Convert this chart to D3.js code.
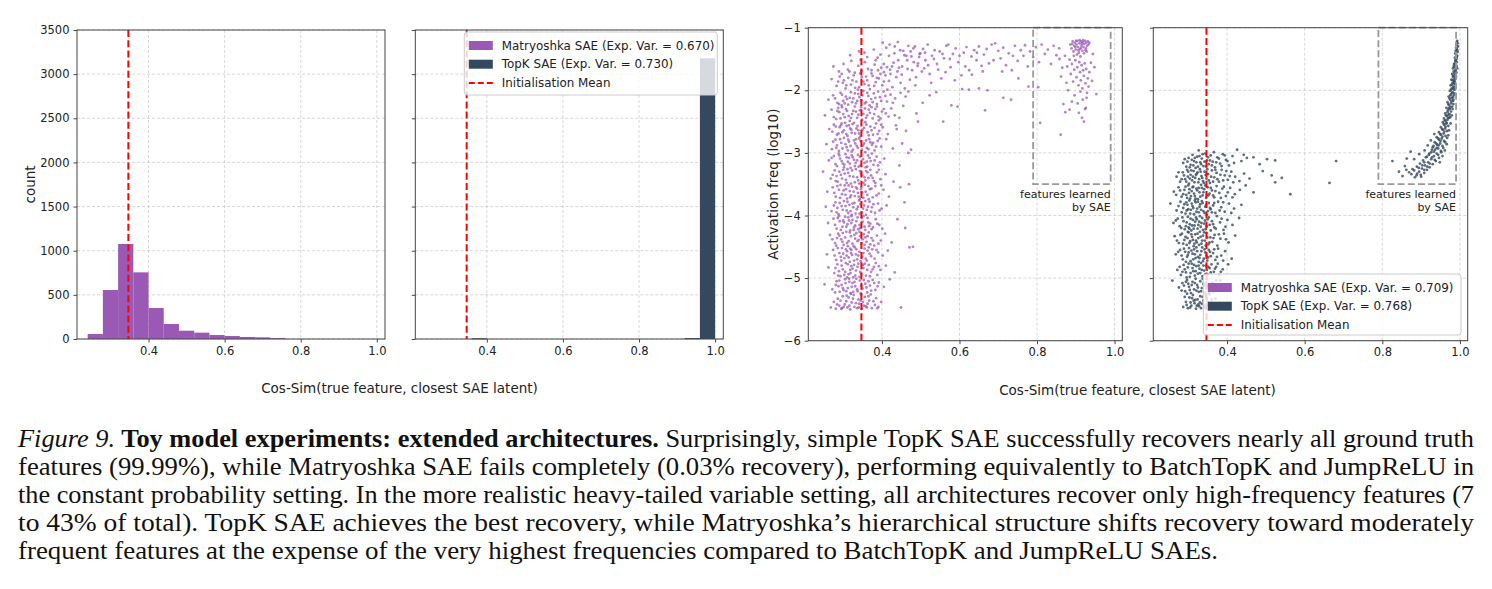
<!DOCTYPE html>
<html>
<head>
<meta charset="utf-8">
<script src="https://cdn.jsdelivr.net/npm/d3@7"></script>
<style>
  body { margin: 0; background: #fff; }
  svg { display: block; font-family: "DejaVu Sans", sans-serif; }
</style>
</head>
<body>
<div id="container"></div>
<script>
/* CONSTANTS AND GLOBALS */
const width = 1492,
  height = 589;

const colors = { matryoshka: "#9b59b6", topk: "#34495e", init: "#ff0000", text: "#222" };

// panel frames (pixels) - two figures side by side, each with two axes
const frames = {
  histM: { left: 77, right: 385, top: 30, bottom: 339 },
  histT: { left: 415.3, right: 723.3, top: 30, bottom: 339 },
  scatM: { left: 808.3, right: 1122.3, top: 27.7, bottom: 340.7 },
  scatT: { left: 1153.3, right: 1467.7, top: 27.7, bottom: 340.7 }
};

/* DATA */
// histogram bins (cos-sim), width 0.04
const binEdges = [0.24, 0.28, 0.32, 0.36, 0.40, 0.44, 0.48, 0.52, 0.56, 0.60, 0.64, 0.68, 0.72, 0.76, 0.80, 0.84, 0.88, 0.92, 0.96, 1.00];
const matryoshkaCounts = [57, 555, 1076, 755, 351, 170, 94, 72, 45, 34, 23, 19, 11, 0, 0, 0, 0, 0, 0];
const topkCounts = [0, 0, 0, 8, 0, 0, 0, 0, 0, 0, 0, 0, 0, 0, 0, 0, 0, 10, 3180];

const initMean = 0.347;
const cosDomainHist = [0.212, 1.0215];
const cosDomainScatter = [0.210, 1.020];
const cosTicks = [0.4, 0.6, 0.8, 1.0];
const countTicks = [0, 500, 1000, 1500, 2000, 2500, 3000, 3500];
const freqTicks = [-6, -5, -4, -3, -2, -1];

const legendHist = ["Matryoshka SAE (Exp. Var. = 0.670)", "TopK SAE (Exp. Var. = 0.730)", "Initialisation Mean"];
const legendScatter = ["Matryoshka SAE (Exp. Var. = 0.709)", "TopK SAE (Exp. Var. = 0.768)", "Initialisation Mean"];

// region of features learned by the SAE (cos-sim, log10 freq)
const learnedRegion = { x0: 0.79, x1: 0.99, y0: -3.5, y1: -1.0 };

// [cos-sim, log10 activation freq]
const matryoshkaPoints = [
  // core, bottom to top
  [0.268,-5.47],[0.281,-5.49],[0.290,-5.44],[0.297,-5.48],[0.304,-5.42],[0.311,-5.47],[0.318,-5.50],[0.322,-5.39],[0.329,-5.46],[0.336,-5.48],[0.341,-5.41],[0.348,-5.49],[0.353,-5.44],[0.361,-5.47],[0.367,-5.36],[0.374,-5.48],[0.382,-5.43],[0.391,-5.46],[0.286,-5.33],[0.299,-5.29],[0.314,-5.31],[0.327,-5.27],[0.339,-5.34],[0.356,-5.30],[0.371,-5.26],[0.385,-5.32],[0.276,-5.38],[0.308,-5.37],[0.345,-5.36],[0.363,-5.41],[0.398,-5.38],[0.449,-5.47],
  [0.284,-5.42],[0.293,-5.36],[0.301,-5.46],[0.309,-5.28],[0.316,-5.44],[0.325,-5.33],[0.333,-5.40],[0.340,-5.47],[0.351,-5.38],[0.358,-5.45],[0.365,-5.29],[0.378,-5.37],[0.388,-5.48],[0.320,-5.25],[0.295,-5.49],[0.346,-5.26],
  [0.252,-5.10],[0.272,-5.18],[0.283,-5.05],[0.291,-5.22],[0.296,-5.11],[0.305,-5.02],[0.312,-5.16],[0.319,-5.24],[0.324,-5.08],[0.331,-5.13],[0.337,-5.21],[0.343,-5.04],[0.350,-5.17],[0.357,-5.09],[0.362,-5.23],[0.369,-5.12],[0.376,-5.03],[0.383,-5.19],[0.392,-5.07],[0.405,-5.14],[0.288,-5.13],[0.316,-5.06],[0.334,-5.01],[0.347,-5.12],[0.301,-5.19],[0.365,-5.05],[0.279,-5.23],[0.420,-5.02],
  [0.281,-5.11],[0.290,-5.04],[0.299,-5.16],[0.308,-5.21],[0.315,-5.01],[0.322,-5.14],[0.329,-5.06],[0.336,-5.18],[0.345,-5.24],[0.353,-5.03],[0.360,-5.15],[0.372,-5.20],[0.380,-5.08],[0.389,-5.13],[0.326,-5.22],[0.306,-5.08],
  [0.262,-4.83],[0.277,-4.92],[0.285,-4.78],[0.293,-4.97],[0.299,-4.86],[0.307,-4.76],[0.314,-4.94],[0.321,-4.81],[0.326,-4.99],[0.333,-4.88],[0.339,-4.77],[0.346,-4.93],[0.352,-4.84],[0.359,-4.96],[0.366,-4.79],[0.372,-4.90],[0.379,-4.82],[0.388,-4.95],[0.396,-4.87],[0.410,-4.80],[0.289,-4.89],[0.318,-4.87],[0.342,-4.98],[0.356,-4.77],[0.303,-4.95],[0.328,-4.79],[0.384,-4.76],[0.433,-4.91],
  [0.280,-4.84],[0.287,-4.96],[0.296,-4.80],[0.305,-4.90],[0.312,-4.78],[0.319,-4.92],[0.324,-4.85],[0.331,-4.96],[0.337,-4.82],[0.344,-4.90],[0.351,-4.79],[0.362,-4.87],[0.369,-4.97],[0.376,-4.86],[0.392,-4.81],[0.310,-4.99],
  [0.258,-4.62],[0.274,-4.55],[0.282,-4.71],[0.290,-4.60],[0.297,-4.52],[0.303,-4.68],[0.310,-4.57],[0.317,-4.74],[0.323,-4.63],[0.330,-4.51],[0.336,-4.70],[0.342,-4.58],[0.349,-4.66],[0.355,-4.53],[0.361,-4.72],[0.368,-4.61],[0.375,-4.54],[0.381,-4.69],[0.390,-4.59],[0.402,-4.64],[0.294,-4.66],[0.321,-4.55],[0.345,-4.73],[0.363,-4.56],[0.309,-4.64],[0.333,-4.62],[0.415,-4.56],[0.471,-4.51],
  [0.278,-4.64],[0.286,-4.52],[0.295,-4.72],[0.300,-4.61],[0.307,-4.54],[0.314,-4.67],[0.320,-4.60],[0.328,-4.72],[0.334,-4.54],[0.339,-4.64],[0.352,-4.60],[0.358,-4.69],[0.366,-4.51],[0.372,-4.65],[0.386,-4.55],[0.318,-4.53],
  [0.266,-4.31],[0.279,-4.44],[0.287,-4.29],[0.295,-4.38],[0.301,-4.47],[0.308,-4.26],[0.314,-4.41],[0.320,-4.33],[0.327,-4.49],[0.334,-4.28],[0.340,-4.39],[0.347,-4.45],[0.353,-4.30],[0.360,-4.42],[0.366,-4.27],[0.373,-4.36],[0.380,-4.48],[0.387,-4.32],[0.397,-4.40],[0.284,-4.36],[0.312,-4.49],[0.331,-4.37],[0.357,-4.35],[0.370,-4.46],[0.299,-4.28],[0.344,-4.33],[0.408,-4.29],[0.425,-4.43],
  [0.272,-4.38],[0.282,-4.48],[0.290,-4.32],[0.298,-4.42],[0.305,-4.35],[0.317,-4.27],[0.324,-4.45],[0.329,-4.31],[0.337,-4.41],[0.350,-4.38],[0.355,-4.47],[0.363,-4.33],[0.377,-4.40],[0.391,-4.45],[0.310,-4.44],[0.342,-4.26],
  [0.261,-4.12],[0.275,-4.05],[0.283,-4.21],[0.291,-4.09],[0.298,-4.18],[0.305,-4.02],[0.311,-4.14],[0.318,-4.24],[0.324,-4.07],[0.331,-4.16],[0.337,-4.03],[0.344,-4.20],[0.350,-4.10],[0.357,-4.23],[0.363,-4.04],[0.370,-4.13],[0.377,-4.19],[0.384,-4.06],[0.393,-4.15],[0.289,-4.01],[0.315,-4.08],[0.339,-4.22],[0.352,-4.01],[0.367,-4.17],[0.302,-4.11],[0.328,-4.19],[0.401,-4.21],[0.440,-4.06],
  [0.279,-4.15],[0.286,-4.04],[0.294,-4.23],[0.300,-4.08],[0.308,-4.18],[0.313,-4.03],[0.321,-4.12],[0.327,-4.23],[0.334,-4.09],[0.342,-4.15],[0.348,-4.04],[0.355,-4.18],[0.365,-4.11],[0.373,-4.22],[0.388,-4.13],[0.321,-4.01],
  [0.255,-3.86],[0.270,-3.93],[0.280,-3.79],[0.288,-3.98],[0.296,-3.85],[0.302,-3.77],[0.309,-3.92],[0.316,-3.83],[0.322,-3.99],[0.329,-3.80],[0.335,-3.90],[0.341,-3.76],[0.348,-3.95],[0.354,-3.84],[0.361,-3.91],[0.368,-3.78],[0.374,-3.87],[0.382,-3.96],[0.390,-3.81],[0.399,-3.89],[0.285,-3.88],[0.313,-3.96],[0.326,-3.87],[0.345,-3.82],[0.359,-3.99],[0.372,-3.94],[0.412,-3.84],[0.458,-3.79],
  [0.276,-3.84],[0.283,-3.95],[0.291,-3.80],[0.299,-3.91],[0.306,-3.85],[0.311,-3.78],[0.319,-3.93],[0.324,-3.81],[0.332,-3.97],[0.338,-3.86],[0.351,-3.89],[0.357,-3.77],[0.364,-3.86],[0.378,-3.82],[0.394,-3.92],[0.342,-3.97],
  [0.259,-3.62],[0.273,-3.55],[0.281,-3.70],[0.289,-3.59],[0.297,-3.66],[0.304,-3.52],[0.310,-3.73],[0.317,-3.61],[0.323,-3.54],[0.330,-3.69],[0.336,-3.57],[0.343,-3.74],[0.349,-3.63],[0.356,-3.51],[0.362,-3.67],[0.369,-3.58],[0.376,-3.71],[0.383,-3.53],[0.392,-3.65],[0.404,-3.59],[0.293,-3.51],[0.320,-3.68],[0.338,-3.64],[0.352,-3.72],[0.365,-3.53],[0.307,-3.58],[0.418,-3.70],[0.447,-3.55],
  [0.277,-3.64],[0.285,-3.53],[0.292,-3.72],[0.301,-3.60],[0.306,-3.67],[0.314,-3.52],[0.318,-3.71],[0.327,-3.62],[0.333,-3.55],[0.340,-3.70],[0.346,-3.58],[0.358,-3.62],[0.366,-3.74],[0.373,-3.57],[0.386,-3.68],[0.398,-3.52],
  [0.248,-3.30],[0.268,-3.41],[0.278,-3.28],[0.286,-3.46],[0.294,-3.35],[0.300,-3.27],[0.307,-3.43],[0.313,-3.32],[0.320,-3.49],[0.326,-3.38],[0.333,-3.26],[0.339,-3.44],[0.346,-3.33],[0.352,-3.48],[0.359,-3.29],[0.365,-3.40],[0.372,-3.36],[0.379,-3.45],[0.387,-3.31],[0.396,-3.42],[0.283,-3.37],[0.311,-3.26],[0.330,-3.47],[0.355,-3.39],[0.370,-3.27],[0.343,-3.29],[0.409,-3.34],[0.430,-3.46],
  [0.273,-3.35],[0.281,-3.45],[0.290,-3.30],[0.297,-3.41],[0.304,-3.33],[0.309,-3.48],[0.317,-3.37],[0.323,-3.28],[0.336,-3.39],[0.341,-3.49],[0.349,-3.36],[0.357,-3.44],[0.363,-3.31],[0.376,-3.40],[0.383,-3.48],[0.392,-3.27],
  [0.263,-3.12],[0.276,-3.05],[0.284,-3.21],[0.292,-3.09],[0.299,-3.17],[0.306,-3.02],[0.312,-3.14],[0.319,-3.24],[0.325,-3.07],[0.332,-3.16],[0.338,-3.03],[0.345,-3.20],[0.351,-3.10],[0.358,-3.23],[0.364,-3.04],[0.371,-3.13],[0.378,-3.19],[0.386,-3.06],[0.395,-3.15],[0.288,-3.01],[0.315,-3.08],[0.340,-3.22],[0.361,-3.14],[0.374,-3.01],[0.302,-3.23],[0.328,-3.11],[0.406,-3.09],[0.468,-3.00],
  [0.270,-3.08],[0.280,-3.18],[0.290,-3.04],[0.296,-3.13],[0.303,-3.19],[0.309,-3.07],[0.317,-3.17],[0.322,-3.04],[0.330,-3.21],[0.336,-3.12],[0.343,-3.06],[0.355,-3.16],[0.362,-3.22],[0.368,-3.08],[0.381,-3.12],[0.390,-3.20],
  [0.257,-2.86],[0.271,-2.94],[0.280,-2.79],[0.289,-2.97],[0.295,-2.84],[0.302,-2.76],[0.309,-2.91],[0.315,-2.82],[0.322,-2.98],[0.328,-2.80],[0.335,-2.89],[0.341,-2.77],[0.348,-2.95],[0.354,-2.85],[0.361,-2.92],[0.367,-2.78],[0.374,-2.87],[0.381,-2.96],[0.389,-2.81],[0.398,-2.90],[0.284,-2.88],[0.312,-2.96],[0.331,-2.85],[0.357,-2.99],[0.370,-2.83],[0.345,-2.81],[0.411,-2.78],[0.428,-2.93],
  [0.274,-2.82],[0.282,-2.92],[0.292,-2.78],[0.298,-2.93],[0.306,-2.86],[0.313,-2.79],[0.319,-2.89],[0.325,-2.95],[0.333,-2.78],[0.338,-2.92],[0.351,-2.88],[0.359,-2.80],[0.365,-2.94],[0.377,-2.84],[0.385,-2.90],[0.394,-2.77],
  [0.264,-2.62],[0.276,-2.55],[0.284,-2.71],[0.291,-2.59],[0.298,-2.67],[0.305,-2.52],[0.311,-2.73],[0.318,-2.61],[0.324,-2.54],[0.331,-2.69],[0.337,-2.57],[0.344,-2.74],[0.350,-2.63],[0.357,-2.51],[0.363,-2.67],[0.370,-2.58],[0.377,-2.71],[0.385,-2.53],[0.393,-2.65],[0.402,-2.59],[0.296,-2.53],[0.322,-2.68],[0.339,-2.64],[0.366,-2.72],[0.309,-2.57],[0.381,-2.60],[0.415,-2.70],[0.436,-2.56],
  [0.272,-2.66],[0.281,-2.58],[0.288,-2.69],[0.294,-2.56],[0.302,-2.64],[0.308,-2.70],[0.315,-2.56],[0.321,-2.63],[0.328,-2.52],[0.334,-2.61],[0.341,-2.69],[0.354,-2.60],[0.360,-2.55],[0.373,-2.64],[0.389,-2.70],[0.398,-2.55],
  [0.253,-2.40],[0.270,-2.31],[0.282,-2.46],[0.290,-2.35],[0.297,-2.27],[0.304,-2.43],[0.310,-2.33],[0.317,-2.49],[0.323,-2.38],[0.330,-2.26],[0.336,-2.44],[0.343,-2.32],[0.349,-2.47],[0.356,-2.29],[0.362,-2.40],[0.369,-2.36],[0.376,-2.45],[0.383,-2.30],[0.391,-2.42],[0.400,-2.34],[0.287,-2.28],[0.314,-2.41],[0.333,-2.34],[0.352,-2.38],[0.373,-2.27],[0.392,-2.48],[0.410,-2.37],[0.424,-2.29],[0.445,-2.44],
  [0.276,-2.43],[0.285,-2.33],[0.293,-2.45],[0.300,-2.38],[0.307,-2.30],[0.320,-2.44],[0.326,-2.33],[0.339,-2.39],[0.346,-2.27],[0.359,-2.44],[0.366,-2.31],[0.380,-2.38],[0.387,-2.26],[0.396,-2.45],[0.405,-2.30],[0.417,-2.42],
  [0.262,-2.15],[0.274,-2.08],[0.285,-2.20],[0.293,-2.04],[0.300,-2.17],[0.307,-2.10],[0.313,-2.23],[0.320,-2.03],[0.326,-2.13],[0.333,-2.21],[0.339,-2.06],[0.346,-2.16],[0.352,-2.01],[0.359,-2.19],[0.365,-2.09],[0.372,-2.14],[0.379,-2.05],[0.387,-2.22],[0.395,-2.11],[0.404,-2.02],[0.413,-2.18],[0.422,-2.07],[0.434,-2.13],[0.448,-2.04],[0.296,-2.24],[0.317,-2.12],[0.342,-2.11],[0.368,-2.24],[0.390,-2.02],[0.461,-2.10],
  [0.279,-2.13],[0.289,-2.22],[0.297,-2.07],[0.304,-2.21],[0.310,-2.14],[0.323,-2.19],[0.330,-2.05],[0.336,-2.17],[0.349,-2.08],[0.356,-2.21],[0.362,-2.04],[0.376,-2.19],[0.383,-2.12],[0.398,-2.17],[0.409,-2.09],[0.428,-2.20],
  [0.270,-1.82],[0.283,-1.93],[0.291,-1.78],[0.299,-1.88],[0.306,-1.97],[0.313,-1.80],[0.320,-1.91],[0.327,-1.76],[0.334,-1.86],[0.341,-1.95],[0.348,-1.79],[0.355,-1.90],[0.362,-1.84],[0.369,-1.98],[0.376,-1.77],[0.384,-1.87],[0.392,-1.81],[0.401,-1.92],[0.409,-1.76],[0.418,-1.85],[0.427,-1.95],[0.437,-1.79],[0.448,-1.88],[0.459,-1.97],[0.472,-1.83],[0.486,-1.92],[0.302,-1.84],[0.338,-1.99],[0.380,-1.93],[0.414,-1.99],
  [0.287,-1.86],[0.296,-1.74],[0.308,-1.92],[0.316,-1.70],[0.324,-1.84],[0.331,-1.96],[0.344,-1.73],[0.352,-1.86],[0.359,-1.78],[0.366,-1.92],[0.373,-1.68],[0.387,-1.80],[0.396,-1.74],[0.405,-1.86],[0.422,-1.74],[0.444,-1.64],
  [0.275,-1.62],[0.289,-1.70],[0.301,-1.58],[0.312,-1.67],[0.321,-1.53],[0.330,-1.72],[0.339,-1.61],[0.347,-1.69],[0.356,-1.55],[0.364,-1.66],[0.373,-1.73],[0.381,-1.59],[0.390,-1.68],[0.398,-1.64],[0.405,-1.71],[0.413,-1.63],[0.421,-1.67],[0.430,-1.56],[0.440,-1.70],[0.452,-1.62],[0.465,-1.52],[0.478,-1.68],[0.493,-1.57],[0.509,-1.65],[0.384,-1.52],[0.345,-1.51],
  [0.318,-1.44],[0.341,-1.38],[0.362,-1.47],[0.379,-1.35],[0.396,-1.43],[0.402,-1.24],[0.411,-1.32],[0.420,-1.27],[0.432,-1.41],[0.447,-1.36],[0.463,-1.45],[0.481,-1.33],[0.497,-1.42],[0.355,-1.40],[0.389,-1.48],
  // high-frequency band
  [0.441,-1.23],[0.455,-1.37],[0.468,-1.29],[0.476,-1.46],[0.485,-1.30],[0.492,-1.61],[0.499,-1.41],[0.506,-1.34],[0.512,-1.52],[0.518,-1.27],[0.523,-1.74],[0.529,-1.45],[0.536,-1.36],[0.542,-1.58],[0.549,-1.38],[0.553,-1.81],[0.560,-1.49],[0.566,-1.29],[0.571,-1.27],[0.577,-1.63],[0.583,-1.42],[0.590,-1.33],[0.597,-1.55],[0.605,-1.76],[0.611,-1.40],[0.618,-1.31],[0.625,-1.68],[0.631,-1.46],[0.638,-1.36],[0.644,-1.52],[0.650,-1.30],[0.657,-1.61],[0.663,-1.43],[0.670,-1.34],[0.676,-1.57],[0.683,-1.27],[0.692,-1.25],[0.700,-1.37],[0.706,-1.49],[0.713,-1.32],[0.720,-1.60],[0.727,-1.41],[0.735,-1.68],[0.743,-1.29],[0.750,-1.53],[0.752,-1.81],[0.758,-1.36],[0.765,-1.45],[0.769,-1.28],[0.776,-1.62],[0.782,-1.38],[0.790,-1.47],[0.797,-1.31],[0.805,-1.55],[0.812,-1.27],[0.820,-1.42],[0.828,-1.35],[0.836,-1.58],[0.843,-1.29],[0.850,-1.44],[0.857,-1.33],[0.865,-1.64],
  [0.405,-1.58],[0.418,-1.45],[0.426,-1.62],[0.433,-1.30],[0.442,-1.52],[0.451,-1.75],[0.458,-1.44],[0.466,-1.66],[0.474,-1.38],[0.482,-1.55],[0.488,-1.79],[0.496,-1.47],[0.503,-1.70],[0.511,-1.40],[0.519,-1.60],[0.527,-1.88],[0.534,-1.50],[0.545,-1.67],[0.556,-1.42],[0.564,-1.71],[0.575,-1.50],[0.588,-1.84],[0.600,-1.45],[0.615,-1.62],[0.632,-1.75],[0.645,-1.40],[0.660,-1.70],[0.688,-1.52],[0.710,-1.70],[0.738,-1.45],
  [0.523,-2.08],[0.558,-2.50],[0.579,-2.24],[0.607,-1.98],[0.624,-1.99],[0.650,-1.97],[0.672,-2.00],[0.666,-2.32],[0.713,-2.12],[0.778,-1.94],[0.803,-1.95],[0.808,-2.52],[0.861,-2.71],[0.493,-2.50],[0.489,-2.37],[0.462,-2.65],[0.475,-2.95],[0.505,-2.20],[0.540,-2.03],[0.595,-2.26],[0.733,-2.15],
  [0.468,-2.02],[0.455,-2.25],[0.433,-2.40],[0.438,-2.62],[0.452,-2.85],[0.445,-3.20],[0.470,-3.50],[0.460,-4.20],[0.480,-4.50],
  // cluster of learned features
  [0.886,-1.27],[0.889,-1.33],[0.892,-1.22],[0.894,-1.38],[0.896,-1.29],[0.898,-1.24],[0.900,-1.35],[0.902,-1.27],[0.904,-1.21],[0.906,-1.31],[0.908,-1.40],[0.909,-1.25],[0.911,-1.34],[0.913,-1.22],[0.915,-1.28],[0.917,-1.37],[0.918,-1.23],[0.920,-1.31],[0.922,-1.26],[0.924,-1.21],[0.926,-1.33],[0.927,-1.24],[0.929,-1.29],[0.931,-1.22],[0.933,-1.27],[0.935,-1.24],[0.903,-1.43],[0.912,-1.46],[0.921,-1.41],[0.895,-1.45],[0.919,-1.20],[0.910,-1.20],[0.925,-1.36],[0.899,-1.31],[0.891,-1.26],[0.914,-1.32],[0.928,-1.38],[0.907,-1.36],[0.916,-1.25],[0.901,-1.21],
  [0.872,-1.45],[0.878,-1.62],[0.884,-1.51],[0.887,-1.74],[0.890,-1.58],[0.893,-1.86],[0.896,-1.67],[0.899,-1.52],[0.902,-1.79],[0.904,-1.63],[0.907,-1.92],[0.909,-1.55],[0.911,-1.71],[0.913,-1.84],[0.915,-1.60],[0.917,-1.97],[0.919,-1.68],[0.921,-1.77],[0.923,-1.57],[0.925,-1.89],[0.927,-1.66],[0.929,-2.04],[0.931,-1.81],[0.933,-1.94],[0.897,-2.08],[0.905,-2.21],[0.912,-2.02],[0.918,-2.15],[0.924,-2.30],[0.916,-2.44],[0.926,-2.28],[0.908,-2.36],[0.890,-2.18],[0.884,-2.31],[0.921,-2.50],[0.928,-2.12],[0.935,-1.71],[0.939,-1.56],[0.944,-1.42],[0.948,-1.63],[0.953,-2.06],[0.942,-1.85],[0.876,-1.88],[0.880,-2.00],[0.868,-2.22],[0.873,-2.35],[0.858,-1.50],[0.862,-1.78]
];

const topkPoints = [
  // core, bottom to top
  [0.287,-5.46],[0.294,-5.38],[0.299,-5.48],[0.303,-5.31],[0.308,-5.44],[0.312,-5.27],[0.316,-5.40],[0.320,-5.49],[0.324,-5.34],[0.328,-5.45],[0.331,-5.29],[0.335,-5.41],[0.339,-5.36],[0.343,-5.47],[0.347,-5.32],[0.351,-5.43],[0.355,-5.26],[0.359,-5.39],[0.364,-5.46],[0.370,-5.33],[0.297,-5.25],[0.318,-5.35],[0.333,-5.48],[0.345,-5.28],[0.306,-5.39],[0.326,-5.42],[0.376,-5.41],[0.291,-5.30],
  [0.296,-5.43],[0.305,-5.47],[0.314,-5.36],[0.322,-5.44],[0.330,-5.39],[0.337,-5.30],[0.341,-5.44],[0.349,-5.37],[0.357,-5.48],[0.361,-5.34],[0.310,-5.32],[0.367,-5.40],
  [0.259,-5.04],[0.276,-5.15],[0.285,-5.08],[0.292,-5.21],[0.297,-5.03],[0.302,-5.14],[0.307,-5.24],[0.311,-5.06],[0.315,-5.18],[0.319,-5.01],[0.323,-5.11],[0.327,-5.22],[0.331,-5.05],[0.335,-5.16],[0.339,-5.09],[0.343,-5.23],[0.348,-5.02],[0.352,-5.13],[0.357,-5.19],[0.362,-5.07],[0.368,-5.17],[0.375,-5.10],[0.383,-5.04],[0.300,-5.09],[0.321,-5.20],[0.337,-5.01],[0.354,-5.24],[0.395,-5.15],
  [0.283,-5.20],[0.289,-5.12],[0.294,-5.06],[0.304,-5.19],[0.309,-5.11],[0.317,-5.08],[0.325,-5.15],[0.333,-5.21],[0.341,-5.12],[0.346,-5.07],[0.359,-5.11],[0.365,-5.22],[0.372,-5.04],[0.379,-5.18],
  [0.272,-4.87],[0.281,-4.95],[0.288,-4.79],[0.294,-4.91],[0.299,-4.83],[0.304,-4.98],[0.309,-4.77],[0.313,-4.89],[0.317,-4.96],[0.321,-4.81],[0.325,-4.93],[0.329,-4.85],[0.333,-4.76],[0.337,-4.97],[0.341,-4.88],[0.346,-4.80],[0.350,-4.94],[0.355,-4.84],[0.360,-4.78],[0.366,-4.90],[0.372,-4.82],[0.380,-4.95],[0.389,-4.86],[0.296,-4.99],[0.315,-4.79],[0.331,-4.92],[0.348,-4.87],[0.403,-4.78],
  [0.278,-4.82],[0.285,-4.90],[0.291,-4.86],[0.301,-4.77],[0.306,-4.92],[0.311,-4.84],[0.319,-4.89],[0.327,-4.80],[0.335,-4.87],[0.339,-4.80],[0.344,-4.94],[0.352,-4.82],[0.358,-4.91],[0.369,-4.85],[0.376,-4.77],[0.384,-4.90],
  [0.268,-4.62],[0.279,-4.55],[0.286,-4.70],[0.292,-4.58],[0.297,-4.66],[0.302,-4.52],[0.306,-4.73],[0.311,-4.61],[0.315,-4.54],[0.319,-4.68],[0.323,-4.57],[0.327,-4.74],[0.331,-4.63],[0.336,-4.51],[0.340,-4.69],[0.344,-4.59],[0.349,-4.72],[0.353,-4.55],[0.358,-4.65],[0.364,-4.60],[0.370,-4.71],[0.377,-4.53],[0.385,-4.64],[0.395,-4.57],[0.301,-4.59],[0.325,-4.66],[0.347,-4.64],[0.412,-4.69],
  [0.274,-4.58],[0.283,-4.64],[0.289,-4.53],[0.294,-4.74],[0.299,-4.63],[0.308,-4.56],[0.313,-4.70],[0.317,-4.62],[0.321,-4.51],[0.329,-4.68],[0.334,-4.57],[0.338,-4.73],[0.342,-4.54],[0.351,-4.67],[0.356,-4.58],[0.367,-4.54],[0.374,-4.66],[0.390,-4.72],
  [0.265,-4.33],[0.276,-4.44],[0.284,-4.29],[0.290,-4.39],[0.296,-4.47],[0.301,-4.27],[0.305,-4.41],[0.310,-4.34],[0.314,-4.49],[0.318,-4.30],[0.322,-4.43],[0.326,-4.36],[0.330,-4.26],[0.334,-4.45],[0.338,-4.32],[0.343,-4.40],[0.347,-4.28],[0.352,-4.46],[0.357,-4.35],[0.362,-4.42],[0.368,-4.31],[0.375,-4.48],[0.383,-4.37],[0.392,-4.29],[0.404,-4.43],[0.298,-4.36],[0.320,-4.40],[0.345,-4.48],[0.421,-4.32],
  [0.271,-4.40],[0.280,-4.31],[0.287,-4.45],[0.293,-4.34],[0.299,-4.26],[0.303,-4.44],[0.308,-4.30],[0.312,-4.39],[0.316,-4.45],[0.324,-4.29],[0.328,-4.47],[0.332,-4.34],[0.336,-4.40],[0.341,-4.27],[0.349,-4.35],[0.355,-4.43],[0.365,-4.36],[0.379,-4.30],[0.397,-4.38],
  [0.262,-4.12],[0.273,-4.05],[0.282,-4.20],[0.288,-4.09],[0.294,-4.17],[0.299,-4.02],[0.304,-4.14],[0.308,-4.24],[0.312,-4.07],[0.316,-4.16],[0.320,-4.03],[0.324,-4.21],[0.328,-4.10],[0.332,-4.18],[0.336,-4.04],[0.341,-4.13],[0.345,-4.22],[0.350,-4.06],[0.355,-4.15],[0.361,-4.09],[0.367,-4.19],[0.374,-4.01],[0.382,-4.11],[0.391,-4.23],[0.401,-4.07],[0.414,-4.15],[0.303,-4.21],[0.330,-4.01],[0.358,-4.24],[0.431,-4.04],
  [0.268,-4.08],[0.278,-4.17],[0.285,-4.03],[0.291,-4.22],[0.296,-4.11],[0.301,-4.19],[0.306,-4.05],[0.310,-4.16],[0.314,-4.21],[0.318,-4.10],[0.322,-4.06],[0.326,-4.15],[0.334,-4.12],[0.338,-4.23],[0.343,-4.08],[0.347,-4.17],[0.353,-4.03],[0.364,-4.14],[0.371,-4.21],[0.386,-4.05],[0.396,-4.18],
  [0.254,-3.81],[0.270,-3.92],[0.280,-3.78],[0.287,-3.88],[0.293,-3.97],[0.298,-3.83],[0.303,-3.76],[0.307,-3.91],[0.311,-3.85],[0.315,-3.98],[0.319,-3.79],[0.323,-3.89],[0.327,-3.95],[0.331,-3.82],[0.335,-3.77],[0.339,-3.93],[0.344,-3.86],[0.348,-3.99],[0.353,-3.80],[0.358,-3.90],[0.364,-3.84],[0.370,-3.96],[0.377,-3.78],[0.385,-3.87],[0.394,-3.94],[0.405,-3.81],[0.418,-3.89],[0.296,-3.92],[0.325,-3.78],[0.351,-3.93],[0.437,-3.83],
  [0.275,-3.85],[0.283,-3.95],[0.290,-3.82],[0.295,-3.79],[0.300,-3.90],[0.305,-3.97],[0.309,-3.81],[0.313,-3.88],[0.317,-3.76],[0.321,-3.94],[0.329,-3.86],[0.333,-3.91],[0.337,-3.80],[0.342,-3.96],[0.346,-3.83],[0.356,-3.88],[0.361,-3.95],[0.367,-3.80],[0.381,-3.92],[0.390,-3.79],[0.411,-3.96],
  [0.263,-3.62],[0.275,-3.55],[0.283,-3.70],[0.290,-3.59],[0.295,-3.67],[0.300,-3.52],[0.305,-3.73],[0.309,-3.61],[0.313,-3.54],[0.317,-3.69],[0.321,-3.57],[0.325,-3.74],[0.329,-3.63],[0.333,-3.51],[0.337,-3.68],[0.341,-3.58],[0.346,-3.72],[0.350,-3.55],[0.355,-3.65],[0.361,-3.60],[0.367,-3.71],[0.373,-3.53],[0.380,-3.64],[0.388,-3.57],[0.397,-3.69],[0.408,-3.56],[0.420,-3.66],[0.433,-3.59],[0.448,-3.52],[0.468,-3.63],[0.302,-3.64],[0.327,-3.56],[0.352,-3.68],
  [0.269,-3.67],[0.279,-3.60],[0.287,-3.66],[0.293,-3.54],[0.297,-3.72],[0.303,-3.58],[0.307,-3.69],[0.311,-3.55],[0.315,-3.65],[0.319,-3.73],[0.323,-3.60],[0.331,-3.70],[0.335,-3.56],[0.339,-3.63],[0.344,-3.52],[0.348,-3.67],[0.358,-3.56],[0.364,-3.68],[0.370,-3.61],[0.384,-3.72],[0.392,-3.54],[0.402,-3.63],[0.414,-3.71],
  [0.270,-3.38],[0.279,-3.46],[0.286,-3.31],[0.292,-3.42],[0.297,-3.27],[0.302,-3.49],[0.306,-3.35],[0.310,-3.44],[0.314,-3.29],[0.318,-3.40],[0.322,-3.33],[0.326,-3.47],[0.330,-3.26],[0.334,-3.37],[0.338,-3.45],[0.342,-3.30],[0.347,-3.41],[0.351,-3.34],[0.356,-3.48],[0.361,-3.28],[0.367,-3.39],[0.373,-3.32],[0.379,-3.46],[0.386,-3.27],[0.394,-3.36],[0.402,-3.43],[0.411,-3.30],[0.421,-3.38],[0.432,-3.45],[0.444,-3.33],[0.458,-3.41],[0.299,-3.38],[0.324,-3.31],[0.349,-3.26],[0.375,-3.42],
  [0.275,-3.31],[0.283,-3.42],[0.289,-3.36],[0.295,-3.46],[0.300,-3.30],[0.304,-3.41],[0.308,-3.28],[0.312,-3.38],[0.316,-3.47],[0.320,-3.35],[0.328,-3.42],[0.332,-3.30],[0.336,-3.40],[0.340,-3.48],[0.345,-3.35],[0.353,-3.44],[0.359,-3.38],[0.364,-3.46],[0.370,-3.27],[0.383,-3.35],[0.390,-3.44],[0.398,-3.29],[0.407,-3.37],[0.416,-3.47],
  [0.287,-3.16],[0.295,-3.22],[0.301,-3.08],[0.306,-3.19],[0.311,-3.03],[0.315,-3.13],[0.319,-3.24],[0.323,-3.06],[0.327,-2.96],[0.331,-3.15],[0.335,-3.09],[0.339,-3.21],[0.344,-3.01],[0.348,-3.12],[0.353,-3.18],[0.358,-3.04],[0.363,-3.14],[0.369,-3.23],[0.375,-3.07],[0.382,-3.17],[0.389,-3.02],[0.397,-3.11],[0.405,-3.20],[0.414,-3.05],[0.426,-2.95],[0.437,-3.13],[0.451,-3.08],[0.468,-3.07],[0.484,-3.18],[0.503,-3.10],[0.524,-3.12],[0.541,-3.40],[0.524,-3.47],[0.563,-3.66],[0.664,-3.48],[0.681,-3.13],[0.492,-3.29],[0.515,-3.36],
  [0.291,-3.10],[0.298,-3.14],[0.304,-3.23],[0.309,-3.11],[0.313,-3.20],[0.317,-3.08],[0.321,-3.15],[0.325,-3.22],[0.329,-3.05],[0.333,-3.18],[0.337,-3.02],[0.342,-3.14],[0.346,-3.22],[0.351,-3.07],[0.356,-3.12],[0.361,-3.20],[0.366,-2.99],[0.372,-3.15],[0.379,-3.09],[0.386,-3.21],[0.394,-3.04],[0.401,-3.13],[0.418,-3.16],[0.443,-3.03],
  // learned features, curved band near cos-sim 1
  [0.993,-1.21],[0.994,-1.25],[0.991,-1.28],[0.995,-1.30],[0.992,-1.34],[0.989,-1.37],[0.994,-1.39],[0.990,-1.43],[0.993,-1.45],[0.987,-1.48],[0.991,-1.50],
  [0.988,-1.53],[0.992,-1.55],[0.985,-1.58],[0.990,-1.60],[0.986,-1.63],[0.982,-1.65],[0.989,-1.67],[0.984,-1.70],[0.991,-1.72],[0.980,-1.74],[0.987,-1.76],[0.983,-1.79],[0.989,-1.81],[0.978,-1.83],[0.985,-1.85],[0.981,-1.88],[0.987,-1.90],[0.976,-1.92],[0.983,-1.94],[0.979,-1.97],[0.986,-1.99],
  [0.974,-2.01],[0.981,-2.03],[0.977,-2.06],[0.984,-2.08],[0.971,-2.10],[0.979,-2.12],[0.975,-2.15],[0.982,-2.17],[0.968,-2.19],[0.977,-2.21],[0.972,-2.24],[0.980,-2.26],[0.965,-2.28],[0.974,-2.30],[0.969,-2.32],[0.977,-2.34],[0.962,-2.37],[0.971,-2.39],[0.966,-2.41],[0.975,-2.43],[0.959,-2.45],[0.968,-2.47],[0.963,-2.49],[0.972,-2.44],[0.983,-2.22],[0.986,-2.05],
  [0.956,-2.51],[0.965,-2.53],[0.960,-2.55],[0.970,-2.57],[0.951,-2.59],[0.962,-2.61],[0.956,-2.63],[0.967,-2.65],[0.946,-2.67],[0.958,-2.69],[0.951,-2.71],[0.963,-2.73],[0.940,-2.75],[0.953,-2.77],[0.946,-2.79],[0.959,-2.81],[0.935,-2.83],[0.949,-2.85],[0.941,-2.87],[0.955,-2.89],[0.930,-2.91],[0.944,-2.93],[0.936,-2.95],[0.951,-2.97],[0.926,-2.99],[0.970,-2.72],[0.966,-2.86],[0.961,-2.96],
  [0.940,-3.01],[0.920,-3.03],[0.933,-3.05],[0.912,-3.07],[0.946,-3.08],[0.926,-3.10],[0.905,-3.12],[0.938,-3.13],[0.918,-3.15],[0.897,-3.17],[0.930,-3.18],[0.910,-3.20],[0.889,-3.22],[0.922,-3.23],[0.902,-3.25],[0.915,-3.27],[0.882,-3.28],[0.895,-3.30],[0.908,-3.32],[0.875,-3.34],[0.888,-3.36],[0.900,-3.38],[0.869,-3.31],[0.826,-3.13],[0.843,-3.30],[0.873,-2.98],[0.858,-3.21],[0.852,-3.37],[0.882,-3.10],[0.895,-3.02],[0.909,-2.96],[0.917,-2.88],[0.925,-2.80],[0.934,-2.70],[0.955,-3.05],[0.948,-3.15],[0.863,-3.09],
  [0.992,-1.23],[0.990,-1.32],[0.993,-1.36],[0.988,-1.41],[0.992,-1.47],[0.989,-1.52],[0.987,-1.57],[0.991,-1.62],[0.984,-1.61],[0.988,-1.69],[0.986,-1.73],[0.982,-1.77],[0.986,-1.82],[0.981,-1.84],[0.984,-1.89],[0.979,-1.91],[0.983,-1.98],[0.977,-1.99],[0.980,-2.04],[0.975,-2.08],[0.982,-2.11],[0.973,-2.13],[0.978,-2.18],[0.970,-2.22],[0.975,-2.27],[0.971,-2.29],[0.968,-2.35],[0.973,-2.38],[0.964,-2.40],[0.969,-2.44],[0.961,-2.48],[0.966,-2.52],[0.958,-2.54],[0.963,-2.58],[0.954,-2.62],[0.960,-2.66],[0.949,-2.70],[0.955,-2.74],[0.944,-2.77],[0.950,-2.81],[0.939,-2.85],[0.945,-2.88],[0.932,-2.89],[0.940,-2.92],[0.928,-2.95],[0.933,-2.98],[0.921,-3.01],[0.944,-3.03],[0.915,-3.06],[0.928,-3.07],[0.935,-3.11],[0.908,-3.15],[0.922,-3.17],[0.903,-3.20],[0.916,-3.22],[0.894,-3.24],[0.908,-3.27],[0.890,-3.33],[0.878,-3.26],[0.899,-3.35],[0.884,-3.39],[0.862,-3.27],[0.952,-2.99],[0.957,-2.92],[0.962,-2.83],[0.967,-2.76],[0.972,-2.64],[0.976,-2.53],[0.979,-2.40],[0.981,-2.30],[0.983,-2.15],[0.985,-1.95],[0.987,-1.86],[0.990,-1.78],[0.993,-1.65]
];

const captionHead = [
  { text: "Figure 9.", style: "italic", weight: "normal" },
  { text: " Toy model experiments: extended architectures.", style: "normal", weight: "bold" },
  { text: " Surprisingly, simple TopK SAE successfully recovers nearly all ground truth", style: "normal", weight: "normal" }
];
const captionLines = [
  "features (99.99%), while Matryoshka SAE fails completely (0.03% recovery), performing equivalently to BatchTopK and JumpReLU in",
  "the constant probability setting. In the more realistic heavy-tailed variable setting, all architectures recover only high-frequency features (7",
  "to 43% of total). TopK SAE achieves the best recovery, while Matryoshka\u2019s hierarchical structure shifts recovery toward moderately",
  "frequent features at the expense of the very highest frequencies compared to BatchTopK and JumpReLU SAEs."
];

let svg;

/* HELPERS */
function makeAxes(frame, xDomain, yDomain, yTicks, showYLabels, yFormat) {
  const x = d3.scaleLinear().domain(xDomain).range([frame.left, frame.right]);
  const y = d3.scaleLinear().domain(yDomain).range([frame.bottom, frame.top]);
  const g = svg.append("g");

  // grid
  g.append("g").selectAll("line").data(cosTicks).join("line")
    .attr("x1", d => x(d)).attr("x2", d => x(d))
    .attr("y1", frame.top).attr("y2", frame.bottom);
  g.append("g").selectAll("line").data(yTicks).join("line")
    .attr("x1", frame.left).attr("x2", frame.right)
    .attr("y1", d => y(d)).attr("y2", d => y(d));
  g.selectAll("line")
    .attr("stroke", "#b0b0b0")
    .attr("stroke-opacity", 0.7)
    .attr("stroke-width", 0.7)
    .attr("stroke-dasharray", "3,2");

  const xAxis = d3.axisBottom(x).tickValues(cosTicks).tickFormat(d3.format(".1f"))
    .tickSize(3.5).tickPadding(4);
  const yAxis = d3.axisLeft(y).tickValues(yTicks).tickFormat(showYLabels ? yFormat : "")
    .tickSize(3.5).tickPadding(4);

  const xg = svg.append("g").attr("transform", `translate(0, ${frame.bottom})`).call(xAxis);
  const yg = svg.append("g").attr("transform", `translate(${frame.left}, 0)`).call(yAxis);
  [xg, yg].forEach(a => {
    a.select(".domain").remove();
    a.attr("font-family", "DejaVu Sans").attr("font-size", 11.5);
    a.selectAll(".tick line").attr("stroke", "#333").attr("stroke-width", 0.9);
    a.selectAll(".tick text").attr("fill", colors.text);
  });

  return { x, y, g };
}

function drawFrame(frame) {
  svg.append("rect")
    .attr("x", frame.left).attr("y", frame.top)
    .attr("width", frame.right - frame.left).attr("height", frame.bottom - frame.top)
    .attr("fill", "none").attr("stroke", "#444").attr("stroke-width", 1);
}

function drawInitLine(frame, x) {
  svg.append("line")
    .attr("x1", x(initMean)).attr("x2", x(initMean))
    .attr("y1", frame.top).attr("y2", frame.bottom)
    .attr("stroke", colors.init).attr("stroke-width", 2)
    .attr("stroke-dasharray", "7,3.2");
}

function drawLegend(left, top, w, h, labels) {
  const lg = svg.append("g").attr("transform", `translate(${left}, ${top})`);
  lg.append("rect")
    .attr("width", w).attr("height", h).attr("rx", 3)
    .attr("fill", "#fff").attr("fill-opacity", 0.8)
    .attr("stroke", "#ccc").attr("stroke-width", 1);
  const rowY = [13.5, 32.2, 51];
  const handles = [colors.matryoshka, colors.topk];
  handles.forEach((c, i) => {
    lg.append("rect")
      .attr("x", 4.5).attr("y", rowY[i] - 4.5)
      .attr("width", 24).attr("height", 9)
      .attr("fill", c);
  });
  lg.append("line")
    .attr("x1", 4.5).attr("x2", 28.5)
    .attr("y1", rowY[2]).attr("y2", rowY[2])
    .attr("stroke", colors.init).attr("stroke-width", 2)
    .attr("stroke-dasharray", "6,3");
  lg.selectAll("text.leg").data(labels).join("text")
    .attr("class", "leg")
    .attr("x", 37.5).attr("y", (d, i) => rowY[i])
    .attr("dy", "0.35em")
    .attr("font-size", 11.9)
    .attr("fill", colors.text)
    .text(d => d);
}

function drawLearnedBox(x, y) {
  svg.append("rect")
    .attr("x", x(learnedRegion.x0)).attr("y", y(learnedRegion.y1))
    .attr("width", x(learnedRegion.x1) - x(learnedRegion.x0))
    .attr("height", y(learnedRegion.y0) - y(learnedRegion.y1))
    .attr("fill", "none").attr("stroke", "#999").attr("stroke-width", 1.8)
    .attr("stroke-dasharray", "7,3.2");
  const t = svg.append("text")
    .attr("text-anchor", "end")
    .attr("font-size", 11)
    .attr("fill", colors.text);
  t.append("tspan").attr("x", x(learnedRegion.x1)).attr("y", y(learnedRegion.y0) + 14).text("features learned");
  t.append("tspan").attr("x", x(learnedRegion.x1)).attr("y", y(learnedRegion.y0) + 27).text("by SAE");
}

/* INIT */
function init() {
  svg = d3.select("#container").append("svg")
    .attr("width", width).attr("height", height);

  const bins = matryoshkaCounts.map((c, i) => ({ x0: binEdges[i], x1: binEdges[i + 1], m: c, t: topkCounts[i] }));

  // + HISTOGRAM: Matryoshka
  const hm = makeAxes(frames.histM, cosDomainHist, [0, 3500], countTicks, true, d3.format("d"));
  svg.append("g").selectAll("rect").data(bins.filter(d => d.m > 0)).join("rect")
    .attr("x", d => hm.x(d.x0)).attr("width", d => hm.x(d.x1) - hm.x(d.x0))
    .attr("y", d => hm.y(d.m)).attr("height", d => hm.y(0) - hm.y(d.m))
    .attr("fill", colors.matryoshka);
  drawInitLine(frames.histM, hm.x);
  drawFrame(frames.histM);

  // + HISTOGRAM: TopK
  const ht = makeAxes(frames.histT, cosDomainHist, [0, 3500], countTicks, false);
  svg.append("g").selectAll("rect").data(bins.filter(d => d.t > 0)).join("rect")
    .attr("x", d => ht.x(d.x0)).attr("width", d => ht.x(d.x1) - ht.x(d.x0))
    .attr("y", d => ht.y(d.t)).attr("height", d => Math.max(1, ht.y(0) - ht.y(d.t)))
    .attr("fill", colors.topk);
  drawInitLine(frames.histT, ht.x);
  drawFrame(frames.histT);
  drawLegend(464.3, 32, 253, 63, legendHist);

  // + SCATTER: Matryoshka
  const sm = makeAxes(frames.scatM, cosDomainScatter, [-6, -1], freqTicks, true, d3.format("d"));
  svg.append("g").selectAll("circle").data(matryoshkaPoints).join("circle")
    .attr("cx", d => sm.x(d[0])).attr("cy", d => sm.y(d[1]))
    .attr("r", 1.4)
    .attr("fill", colors.matryoshka).attr("fill-opacity", 0.75);
  drawInitLine(frames.scatM, sm.x);
  drawLearnedBox(sm.x, sm.y);
  drawFrame(frames.scatM);

  // + SCATTER: TopK
  const st = makeAxes(frames.scatT, cosDomainScatter, [-6, -1], freqTicks, false);
  svg.append("g").selectAll("circle").data(topkPoints).join("circle")
    .attr("cx", d => st.x(d[0])).attr("cy", d => st.y(d[1]))
    .attr("r", 1.4)
    .attr("fill", colors.topk).attr("fill-opacity", 0.8);
  drawInitLine(frames.scatT, st.x);
  drawLearnedBox(st.x, st.y);
  drawFrame(frames.scatT);
  drawLegend(1203.3, 274, 257.7, 61, legendScatter);

  // + AXIS LABELS
  svg.append("text")
    .attr("transform", `translate(30.5, ${(frames.histM.top + frames.histM.bottom) / 2}) rotate(-90)`)
    .attr("text-anchor", "middle").attr("dy", "0.35em")
    .attr("font-size", 13.5).attr("fill", colors.text)
    .text("count");
  svg.append("text")
    .attr("transform", `translate(773.3, ${(frames.scatM.top + frames.scatM.bottom) / 2}) rotate(-90)`)
    .attr("text-anchor", "middle").attr("dy", "0.35em")
    .attr("font-size", 13.5).attr("fill", colors.text)
    .text("Activation freq (log10)");
  svg.append("text")
    .attr("x", 399.5).attr("y", 393)
    .attr("text-anchor", "middle")
    .attr("font-size", 13.5).attr("fill", colors.text)
    .text("Cos-Sim(true feature, closest SAE latent)");
  svg.append("text")
    .attr("x", 1137.5).attr("y", 395)
    .attr("text-anchor", "middle")
    .attr("font-size", 13.5).attr("fill", colors.text)
    .text("Cos-Sim(true feature, closest SAE latent)");

  // + CAPTION
  const cap = svg.append("g")
    .attr("font-family", "'Liberation Serif', 'Times New Roman', serif")
    .attr("font-size", 26)
    .attr("fill", "#111");
  const head = cap.append("text")
    .attr("x", 18).attr("y", 446.7)
    .attr("textLength", 1456).attr("lengthAdjust", "spacingAndGlyphs");
  head.selectAll("tspan").data(captionHead).join("tspan")
    .attr("font-style", d => d.style)
    .attr("font-weight", d => d.weight)
    .text(d => d.text);
  cap.selectAll("text.line").data(captionLines).join("text")
    .attr("class", "line")
    .attr("x", 18).attr("y", (d, i) => 446.7 + 28.15 * (i + 1))
    .attr("textLength", (d, i) => i < 3 ? 1456 : 1200)
    .attr("lengthAdjust", "spacingAndGlyphs")
    .text(d => d);
}

init();
</script>
</body>
</html>
